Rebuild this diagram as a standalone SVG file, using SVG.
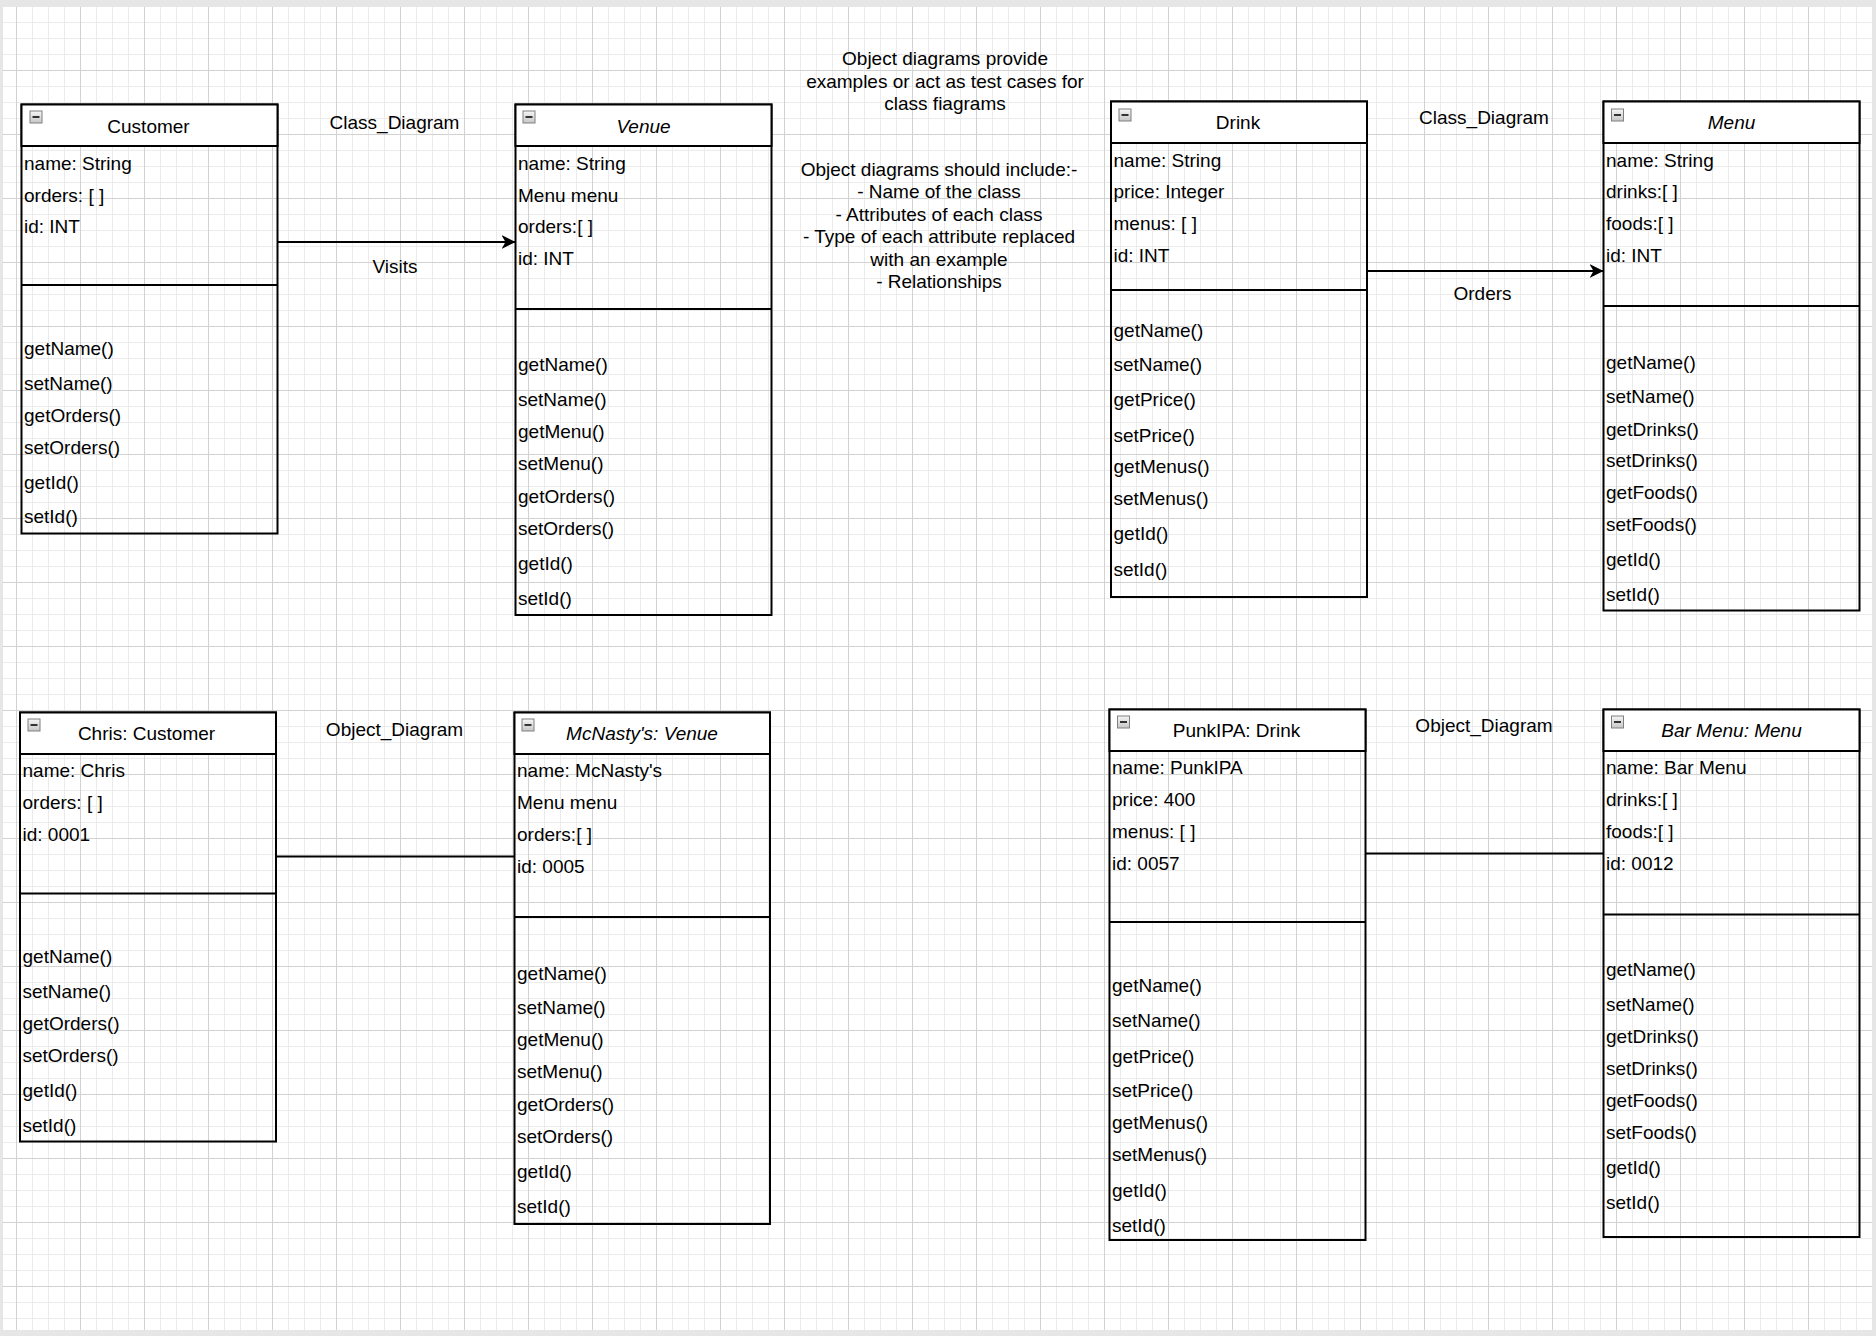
<svg xmlns="http://www.w3.org/2000/svg" width="1876" height="1336" viewBox="0 0 1876 1336">
<style>
text{font-family:"Liberation Sans",Arial,Helvetica,sans-serif;font-size:19px;fill:#000}
.c{text-anchor:middle}
.i{font-style:italic}
.box{fill:none;stroke:#000;stroke-width:2}
.hdr{fill:#fff;stroke:#000;stroke-width:2}
.dv{stroke:#000;stroke-width:2}
.ico{fill:url(#icoG);stroke:#808080;stroke-width:1}
.bar{fill:#333}
.edge{stroke:#000;stroke-width:2;fill:none}
</style>
<defs>
<pattern id="minor" width="16" height="16" patternUnits="userSpaceOnUse" x="0" y="6">
<path d="M0 0.5H16M0.5 0V16" stroke="#ebebeb" stroke-width="1" fill="none"/>
</pattern>
<pattern id="major" width="64" height="64" patternUnits="userSpaceOnUse" x="16" y="6">
<path d="M0 0.5H64M0.5 0V64" stroke="#d2d2d2" stroke-width="1" fill="none"/>
</pattern>
<linearGradient id="icoG" x1="0" y1="0" x2="0" y2="1">
<stop offset="0" stop-color="#f6f6f6"/>
<stop offset="1" stop-color="#c6c6c6"/>
</linearGradient>
<marker id="arr" markerUnits="userSpaceOnUse" markerWidth="16" markerHeight="16" refX="14" refY="7" orient="auto" viewBox="0 0 16 16">
<path d="M0 0L14 7L0 14L4 7Z" fill="#000"/>
</marker>
</defs>
<rect x="0" y="0" width="1876" height="1336" fill="#e6e6e6"/>
<rect x="3" y="7" width="1869" height="1323" fill="#fff"/>
<rect x="3" y="7" width="1869" height="1323" fill="url(#minor)"/>
<rect x="3" y="7" width="1869" height="1323" fill="url(#major)"/>

<g id="notes">
<text class="c" x="945" y="65">Object diagrams provide</text>
<text class="c" x="945" y="87.5">examples or act as test cases for</text>
<text class="c" x="945" y="110">class fiagrams</text>
<text class="c" x="939" y="175.5">Object diagrams should include:-</text>
<text class="c" x="939" y="198">- Name of the class</text>
<text class="c" x="939" y="220.5">- Attributes of each class</text>
<text class="c" x="939" y="243">- Type of each attribute replaced</text>
<text class="c" x="939" y="265.5">with an example</text>
<text class="c" x="939" y="288">- Relationships</text>
</g>

<g id="connectors">
<line class="edge" x1="277.5" y1="242" x2="515.5" y2="242" marker-end="url(#arr)"/>
<text class="c" x="394.5" y="128.5">Class_Diagram</text>
<text class="c" x="395" y="272.5">Visits</text>
<line class="edge" x1="1367" y1="271" x2="1603.5" y2="271" marker-end="url(#arr)"/>
<text class="c" x="1484" y="124">Class_Diagram</text>
<text class="c" x="1482.5" y="299.5">Orders</text>
<line class="edge" x1="276" y1="856.5" x2="514.5" y2="856.5"/>
<text class="c" x="394.5" y="735.5">Object_Diagram</text>
<line class="edge" x1="1365.5" y1="853.5" x2="1603.5" y2="853.5"/>
<text class="c" x="1484" y="732">Object_Diagram</text>
</g>

<g id="customer">
<rect class="box" x="21.5" y="104.5" width="256" height="429"/>
<rect class="hdr" x="21.5" y="104.5" width="256" height="41.5"/>
<line class="dv" x1="21.5" y1="285" x2="277.5" y2="285"/>
<rect class="ico" x="30" y="111" width="12" height="12"/><rect class="bar" x="32.5" y="116" width="7" height="2"/>
<text class="c" x="148.5" y="133">Customer</text>
<text x="24" y="170">name: String</text>
<text x="24" y="202">orders: [ ]</text>
<text x="24" y="233">id: INT</text>
<text x="24" y="355">getName()</text>
<text x="24" y="390">setName()</text>
<text x="24" y="422">getOrders()</text>
<text x="24" y="454">setOrders()</text>
<text x="24" y="489">getId()</text>
<text x="24" y="523">setId()</text>
</g>

<g id="venue">
<rect class="box" x="515.5" y="104.5" width="256" height="510.5"/>
<rect class="hdr" x="515.5" y="104.5" width="256" height="41.5"/>
<line class="dv" x1="515.5" y1="309" x2="771.5" y2="309"/>
<rect class="ico" x="523" y="111" width="12" height="12"/><rect class="bar" x="525.5" y="116" width="7" height="2"/>
<text class="c i" x="643.5" y="132.5">Venue</text>
<text x="518" y="170">name: String</text>
<text x="518" y="201.5">Menu menu</text>
<text x="518" y="233">orders:[ ]</text>
<text x="518" y="265">id: INT</text>
<text x="518" y="371">getName()</text>
<text x="518" y="406">setName()</text>
<text x="518" y="438">getMenu()</text>
<text x="518" y="470">setMenu()</text>
<text x="518" y="502.5">getOrders()</text>
<text x="518" y="535">setOrders()</text>
<text x="518" y="570">getId()</text>
<text x="518" y="605">setId()</text>
</g>

<g id="drink">
<rect class="box" x="1111" y="101.5" width="256" height="495.5"/>
<rect class="hdr" x="1111" y="101.5" width="256" height="41.5"/>
<line class="dv" x1="1111" y1="290" x2="1367" y2="290"/>
<rect class="ico" x="1119" y="109" width="12" height="12"/><rect class="bar" x="1121.5" y="114" width="7" height="2"/>
<text class="c" x="1238" y="129">Drink</text>
<text x="1113.5" y="167">name: String</text>
<text x="1113.5" y="198">price: Integer</text>
<text x="1113.5" y="230">menus: [ ]</text>
<text x="1113.5" y="262">id: INT</text>
<text x="1113.5" y="336.5">getName()</text>
<text x="1113.5" y="371">setName()</text>
<text x="1113.5" y="406">getPrice()</text>
<text x="1113.5" y="441.5">setPrice()</text>
<text x="1113.5" y="473">getMenus()</text>
<text x="1113.5" y="505">setMenus()</text>
<text x="1113.5" y="540">getId()</text>
<text x="1113.5" y="575.5">setId()</text>
</g>

<g id="menu">
<rect class="box" x="1603.5" y="101.5" width="256" height="509"/>
<rect class="hdr" x="1603.5" y="101.5" width="256" height="41.5"/>
<line class="dv" x1="1603.5" y1="306" x2="1859.5" y2="306"/>
<rect class="ico" x="1611.5" y="109" width="12" height="12"/><rect class="bar" x="1614" y="114" width="7" height="2"/>
<text class="c i" x="1731.5" y="129">Menu</text>
<text x="1606" y="167">name: String</text>
<text x="1606" y="198">drinks:[ ]</text>
<text x="1606" y="230">foods:[ ]</text>
<text x="1606" y="262">id: INT</text>
<text x="1606" y="368.5">getName()</text>
<text x="1606" y="403">setName()</text>
<text x="1606" y="435.5">getDrinks()</text>
<text x="1606" y="467">setDrinks()</text>
<text x="1606" y="499">getFoods()</text>
<text x="1606" y="531">setFoods()</text>
<text x="1606" y="566">getId()</text>
<text x="1606" y="601">setId()</text>
</g>

<g id="chris">
<rect class="box" x="20" y="712.5" width="256" height="429"/>
<rect class="hdr" x="20" y="712.5" width="256" height="41.5"/>
<line class="dv" x1="20" y1="893.5" x2="276" y2="893.5"/>
<rect class="ico" x="28" y="719" width="12" height="12"/><rect class="bar" x="30.5" y="724" width="7" height="2"/>
<text class="c" x="146.5" y="740">Chris: Customer</text>
<text x="22.5" y="777">name: Chris</text>
<text x="22.5" y="809">orders: [ ]</text>
<text x="22.5" y="841">id: 0001</text>
<text x="22.5" y="963">getName()</text>
<text x="22.5" y="998">setName()</text>
<text x="22.5" y="1030">getOrders()</text>
<text x="22.5" y="1062">setOrders()</text>
<text x="22.5" y="1097">getId()</text>
<text x="22.5" y="1131.5">setId()</text>
</g>

<g id="mcnastys">
<rect class="box" x="514.5" y="712.5" width="255.5" height="511.5"/>
<rect class="hdr" x="514.5" y="712.5" width="255.5" height="41.5"/>
<line class="dv" x1="514.5" y1="917" x2="770" y2="917"/>
<rect class="ico" x="522" y="719" width="12" height="12"/><rect class="bar" x="524.5" y="724" width="7" height="2"/>
<text class="c i" x="642" y="740">McNasty's: Venue</text>
<text x="517" y="777">name: McNasty's</text>
<text x="517" y="809">Menu menu</text>
<text x="517" y="841">orders:[ ]</text>
<text x="517" y="873">id: 0005</text>
<text x="517" y="979.5">getName()</text>
<text x="517" y="1014">setName()</text>
<text x="517" y="1046">getMenu()</text>
<text x="517" y="1078">setMenu()</text>
<text x="517" y="1110.5">getOrders()</text>
<text x="517" y="1142.5">setOrders()</text>
<text x="517" y="1177.5">getId()</text>
<text x="517" y="1213">setId()</text>
</g>

<g id="punkipa">
<rect class="box" x="1109.5" y="709.5" width="256" height="530.5"/>
<rect class="hdr" x="1109.5" y="709.5" width="256" height="41.5"/>
<line class="dv" x1="1109.5" y1="922" x2="1365.5" y2="922"/>
<rect class="ico" x="1117.5" y="716" width="12" height="12"/><rect class="bar" x="1120" y="721" width="7" height="2"/>
<text class="c" x="1236.5" y="737">PunkIPA: Drink</text>
<text x="1112" y="774">name: PunkIPA</text>
<text x="1112" y="806">price: 400</text>
<text x="1112" y="838">menus: [ ]</text>
<text x="1112" y="869.5">id: 0057</text>
<text x="1112" y="992">getName()</text>
<text x="1112" y="1027">setName()</text>
<text x="1112" y="1062.5">getPrice()</text>
<text x="1112" y="1097">setPrice()</text>
<text x="1112" y="1128.5">getMenus()</text>
<text x="1112" y="1160.5">setMenus()</text>
<text x="1112" y="1196.5">getId()</text>
<text x="1112" y="1232">setId()</text>
</g>

<g id="barmenu">
<rect class="box" x="1603.5" y="709.5" width="256" height="527.5"/>
<rect class="hdr" x="1603.5" y="709.5" width="256" height="41.5"/>
<line class="dv" x1="1603.5" y1="914.5" x2="1859.5" y2="914.5"/>
<rect class="ico" x="1611.5" y="716" width="12" height="12"/><rect class="bar" x="1614" y="721" width="7" height="2"/>
<text class="c i" x="1731.5" y="737">Bar Menu: Menu</text>
<text x="1606" y="774">name: Bar Menu</text>
<text x="1606" y="806">drinks:[ ]</text>
<text x="1606" y="838">foods:[ ]</text>
<text x="1606" y="869.5">id: 0012</text>
<text x="1606" y="975.5">getName()</text>
<text x="1606" y="1010.5">setName()</text>
<text x="1606" y="1043">getDrinks()</text>
<text x="1606" y="1074.5">setDrinks()</text>
<text x="1606" y="1107">getFoods()</text>
<text x="1606" y="1139">setFoods()</text>
<text x="1606" y="1174">getId()</text>
<text x="1606" y="1209">setId()</text>
</g>
</svg>
